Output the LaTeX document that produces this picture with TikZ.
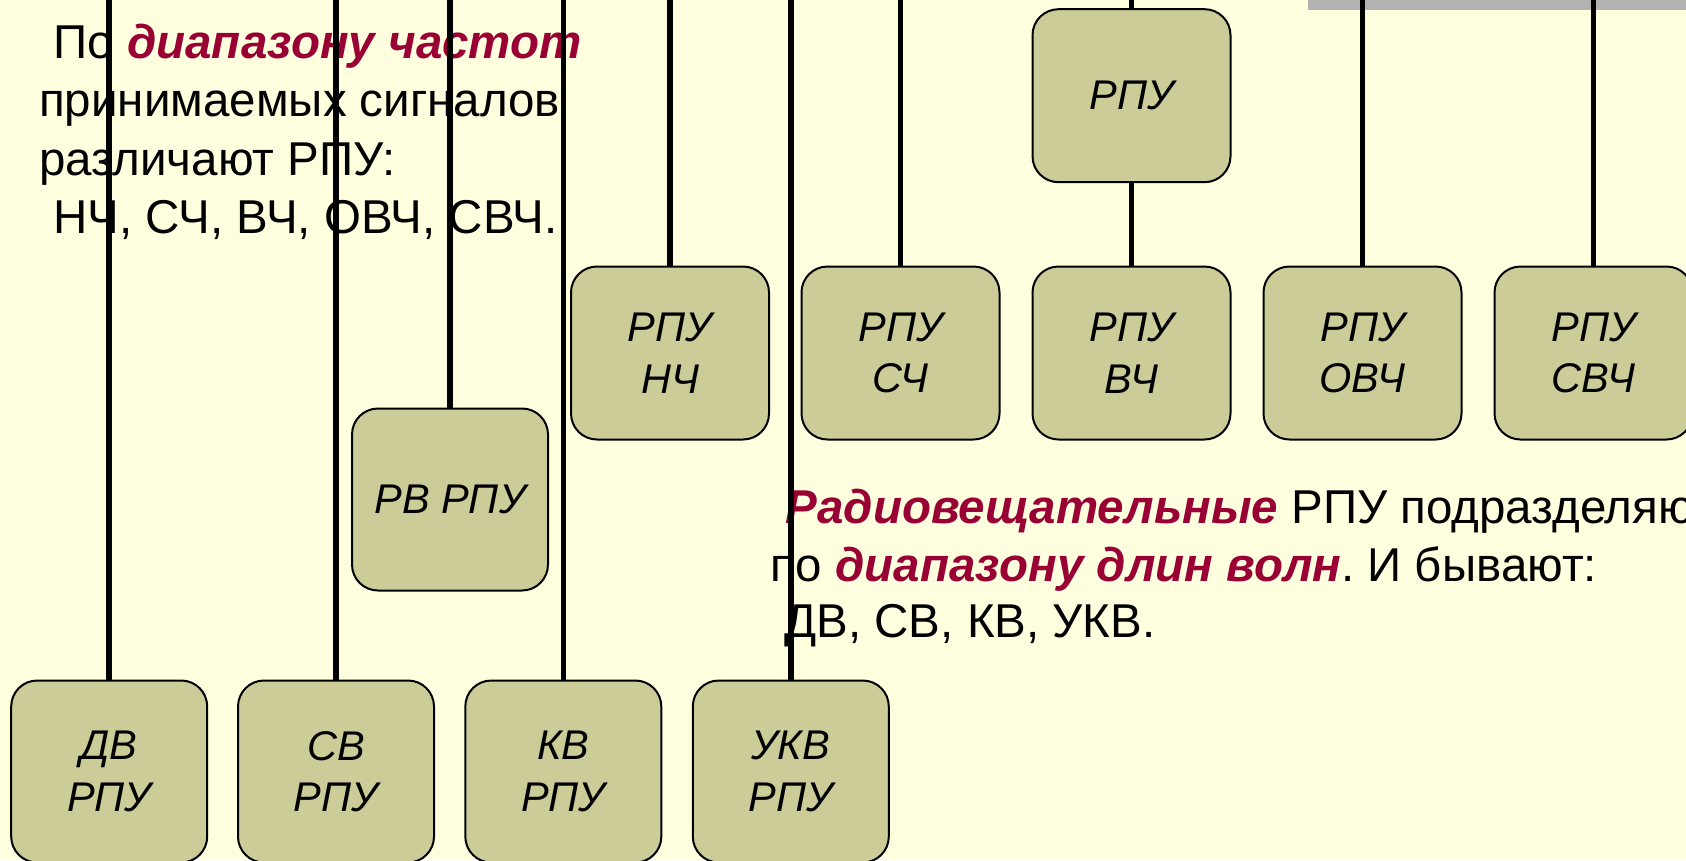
\documentclass[tikz,border=0pt]{standalone}
\usepackage{fontspec}
\setmainfont{Liberation Sans}
\definecolor{bgc}{RGB}{255,255,224}
\definecolor{boxc}{RGB}{204,204,153}
\definecolor{emc}{RGB}{153,0,51}
\definecolor{barc}{RGB}{178,178,178}
\newcommand\emred[1]{\textcolor{emc}{\bfseries\itshape #1}}
\begin{document}
\frenchspacing
\begin{tikzpicture}[x=1pt,y=-1pt,
  rpu/.style={draw=black, line width=2pt, fill=boxc, rounded corners=26pt,
    minimum width=198pt, minimum height=173pt, align=center, inner sep=0pt,
    font=\fontsize{41.5}{51.5}\selectfont\itshape},
  tallbox/.style={minimum width=196pt, minimum height=182pt},
  link/.style={line width=5.5pt},
  txt/.style={anchor=base west, inner sep=0pt, font=\fontsize{47.5}{58}\selectfont}]
\useasboundingbox (0,0) rectangle (1686,860);
\clip (0,0) rectangle (1686,860);
\fill[bgc] (0,0) rectangle (1686,860);
\fill[barc] (1308,0) rectangle (1686,10);
\coordinate (top) at (0,0);
% texts
\node[txt] (l1) at (39,58.3) {\hspace*{0.3em}По \emred{диапазону частот}};
\node[txt] (l2) at (39,116.7) {принимаемых сигналов};
\node[txt] (l3) at (39,175) {различают РПУ:};
\node[txt] (l4) at (39,233.5) {\hspace*{0.3em}НЧ, СЧ, ВЧ, ОВЧ, СВЧ.};
\node[txt] (r1) at (770,523.3) {\hspace*{0.33em}\emred{Радиовещательные} РПУ подразделяю};
\node[txt] (r2) at (770,581.7) {по \emred{диапазону длин волн}. И бывают:};
\node[txt] (r3) at (770,637) {\hspace*{0.3em}ДВ, СВ, КВ, УКВ.};
% boxes
\node[rpu] (rpu) at (1131.5,95.7) {РПУ};
\node[rpu] (nch) at (670,353) {РПУ\\НЧ};
\node[rpu] (sch) at (900.5,353) {РПУ\\СЧ};
\node[rpu] (vch) at (1131.5,353) {РПУ\\ВЧ};
\node[rpu] (ovch) at (1362.5,353) {РПУ\\ОВЧ};
\node[rpu] (svch) at (1593.5,353) {РПУ\\СВЧ};
\node[rpu,tallbox] (rv) at (450,499.5) {РВ РПУ};
\node[rpu,tallbox] (dv) at (109.2,771.5) {ДВ\\РПУ};
\node[rpu,tallbox] (sv) at (336,771.5) {СВ\\РПУ};
\node[rpu,tallbox] (kv) at (563.3,771.5) {КВ\\РПУ};
\node[rpu,tallbox] (ukv) at (790.8,771.5) {УКВ\\РПУ};
% connectors
\foreach \n in {dv,sv,rv,kv,nch,ukv,sch,rpu,ovch,svch}
  \draw[link] (\n.north |- top) -- (\n.north);
\draw[link] (rpu.south) -- (vch.north);
\end{tikzpicture}
\end{document}
